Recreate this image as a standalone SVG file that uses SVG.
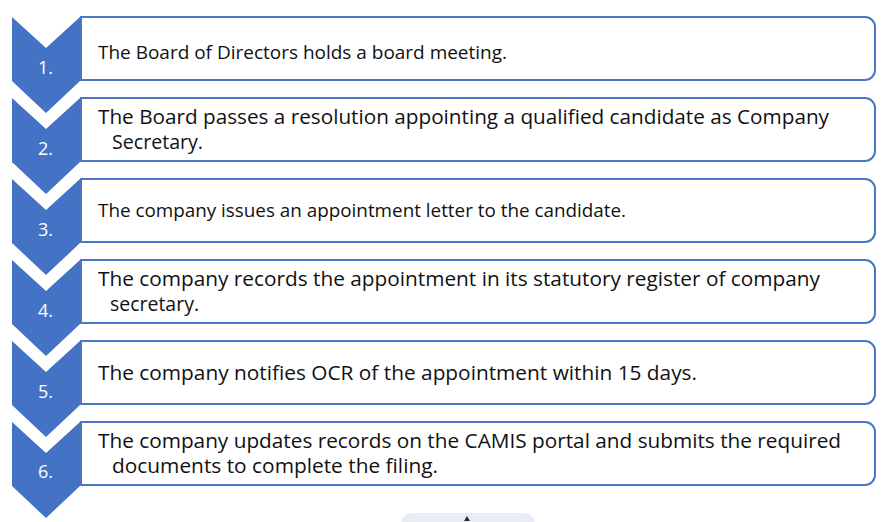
<svg xmlns="http://www.w3.org/2000/svg" width="888" height="522" viewBox="0 0 888 522">
<style>
.chev{fill:#4472C4;}
.num{font-family:"Open Sans","Liberation Sans",sans-serif;font-size:18px;fill:#ffffff;}
.box{fill:#ffffff;stroke:#4a76c2;stroke-width:2;}
.txt{font-family:"Open Sans","Liberation Sans",sans-serif;font-size:19.5px;fill:#111111;}
.txt1{font-family:"Open Sans","Liberation Sans",sans-serif;font-size:18px;fill:#111111;}
.txt3{font-family:"Open Sans","Liberation Sans",sans-serif;font-size:17.6px;fill:#111111;}
</style>
<rect width="888" height="522" fill="#ffffff"/>
<g id="step1">
<path class="chev" d="M12,17 L46,48 L80,17 L80,81 L46,113 L12,81 Z"/>
<path class="box" d="M81,17 H865 A10,10 0 0 1 875,27 V70 A10,10 0 0 1 865,80 H81 Z"/>
<text class="num" x="38" y="74">1.</text>
<text class="txt1" x="98" y="59" textLength="409" lengthAdjust="spacingAndGlyphs">The Board of Directors holds a board meeting.</text>
</g>
<g id="step2">
<path class="chev" d="M12,98 L46,129 L80,98 L80,162 L46,194 L12,162 Z"/>
<path class="box" d="M81,98 H865 A10,10 0 0 1 875,108 V151 A10,10 0 0 1 865,161 H81 Z"/>
<text class="num" x="38" y="155">2.</text>
<text class="txt" x="98" y="124" textLength="731" lengthAdjust="spacingAndGlyphs">The Board passes a resolution appointing a qualified candidate as Company</text>
<text class="txt" x="112" y="149" textLength="91" lengthAdjust="spacingAndGlyphs">Secretary.</text>
</g>
<g id="step3">
<path class="chev" d="M12,179 L46,210 L80,179 L80,243 L46,275 L12,243 Z"/>
<path class="box" d="M81,179 H865 A10,10 0 0 1 875,189 V232 A10,10 0 0 1 865,242 H81 Z"/>
<text class="num" x="38" y="236">3.</text>
<text class="txt3" x="98" y="217" textLength="528" lengthAdjust="spacingAndGlyphs">The company issues an appointment letter to the candidate.</text>
</g>
<g id="step4">
<path class="chev" d="M12,260 L46,291 L80,260 L80,324 L46,356 L12,324 Z"/>
<path class="box" d="M81,260 H865 A10,10 0 0 1 875,270 V313 A10,10 0 0 1 865,323 H81 Z"/>
<text class="num" x="38" y="317">4.</text>
<text class="txt" x="98" y="286" textLength="722" lengthAdjust="spacingAndGlyphs">The company records the appointment in its statutory register of company</text>
<text class="txt" x="110" y="311" textLength="89" lengthAdjust="spacingAndGlyphs">secretary.</text>
</g>
<g id="step5">
<path class="chev" d="M12,341 L46,372 L80,341 L80,405 L46,437 L12,405 Z"/>
<path class="box" d="M81,341 H865 A10,10 0 0 1 875,351 V394 A10,10 0 0 1 865,404 H81 Z"/>
<text class="num" x="38" y="398">5.</text>
<text class="txt" x="98" y="380" textLength="599" lengthAdjust="spacingAndGlyphs">The company notifies OCR of the appointment within 15 days.</text>
</g>
<g id="step6">
<path class="chev" d="M12,422 L46,453 L80,422 L80,486 L46,518 L12,486 Z"/>
<path class="box" d="M81,422 H865 A10,10 0 0 1 875,432 V475 A10,10 0 0 1 865,485 H81 Z"/>
<text class="num" x="38" y="478">6.</text>
<text class="txt" x="98" y="448" textLength="743" lengthAdjust="spacingAndGlyphs">The company updates records on the CAMIS portal and submits the required</text>
<text class="txt" x="112" y="473" textLength="326" lengthAdjust="spacingAndGlyphs">documents to complete the filing.</text>
</g>
<g id="connectors"></g>
<g id="scroll-tab">
<rect x="401" y="513" width="134" height="24" rx="11" fill="#e8ecf5"/>
<path d="M464,521 L467,516 L470,521 Z" fill="#1f2a44"/>
</g>
</svg>
